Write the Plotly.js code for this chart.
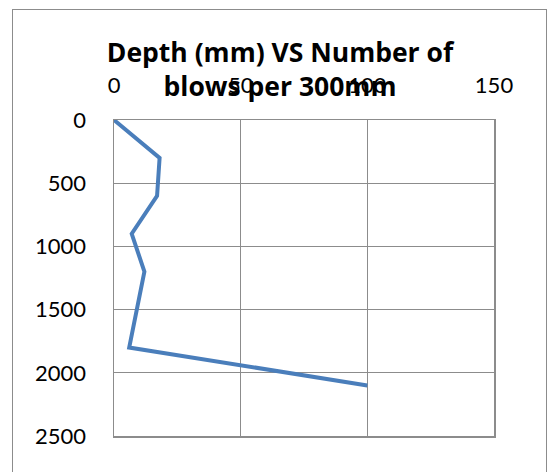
<!DOCTYPE html>
<html>
<head>
<meta charset="utf-8">
<script src="https://cdn.plot.ly/plotly-3.0.1.min.js"></script>
<style>
  html, body { margin: 0; padding: 0; width: 553px; height: 472px; overflow: hidden; background: #fff; }
  #frame { position: absolute; left: 12px; top: 9px; width: 533px; height: 520px; border: 1.5px solid #8c8c8c; pointer-events: none; z-index: 5; }
  #chart { position: absolute; left: 0; top: 0; width: 553px; height: 472px; }
</style>
</head>
<body>
<div id="chart"></div>
<div id="frame"></div>
<script>
// Number of blows per 300 mm (x) against depth in mm (y)
const blows = [0, 18, 17, 7, 12, 6, 100];
const depth = [0, 300, 600, 900, 1200, 1800, 2100];
const xTicks = [0, 50, 100, 150];
const yTicks = [0, 500, 1000, 1500, 2000, 2500];
const chartTitle = 'Depth (mm) VS Number of<br>blows per 300mm';

const tickFont = { family: 'Lato, "Open Sans", sans-serif', size: 22, color: '#000' };

const trace = {
  x: blows,
  y: depth,
  type: 'scatter',
  mode: 'lines',
  line: { color: '#4a7ebb', width: 4 },
  hoverinfo: 'skip'
};

const layout = {
  width: 553,
  height: 472,
  margin: { l: 114, r: 59, t: 120, b: 36 },
  paper_bgcolor: '#fff',
  plot_bgcolor: '#fff',
  showlegend: false,
  title: {
    text: chartTitle,
    font: { family: '"Open Sans", Lato, sans-serif', size: 26.5, color: '#000', weight: 'bold' },
    x: 280 / 553,
    xanchor: 'center',
    xref: 'container',
    yref: 'container',
    y: 1 - 62 / 472,
    yanchor: 'top'
  },
  xaxis: {
    side: 'top',
    range: [0, 150],
    tickvals: xTicks,
    ticktext: xTicks.map(String),
    showgrid: true,
    gridcolor: '#8c8c8c',
    gridwidth: 1,
    showline: true,
    linecolor: '#8c8c8c',
    linewidth: 1.5,
    mirror: true,
    zeroline: false,
    ticks: '',
    tickfont: tickFont,
    ticklabelstandoff: 17,
    fixedrange: true
  },
  yaxis: {
    range: [2500, 0],
    tickvals: yTicks,
    ticktext: yTicks.map(String),
    showgrid: true,
    gridcolor: '#8c8c8c',
    gridwidth: 1,
    showline: true,
    linecolor: '#8c8c8c',
    linewidth: 1.5,
    mirror: true,
    zeroline: false,
    ticks: '',
    tickfont: tickFont,
    ticklabelstandoff: 22,
    fixedrange: true
  }
};

Plotly.newPlot('chart', [trace], layout, { displayModeBar: false, staticPlot: true });
</script>
</body>
</html>
